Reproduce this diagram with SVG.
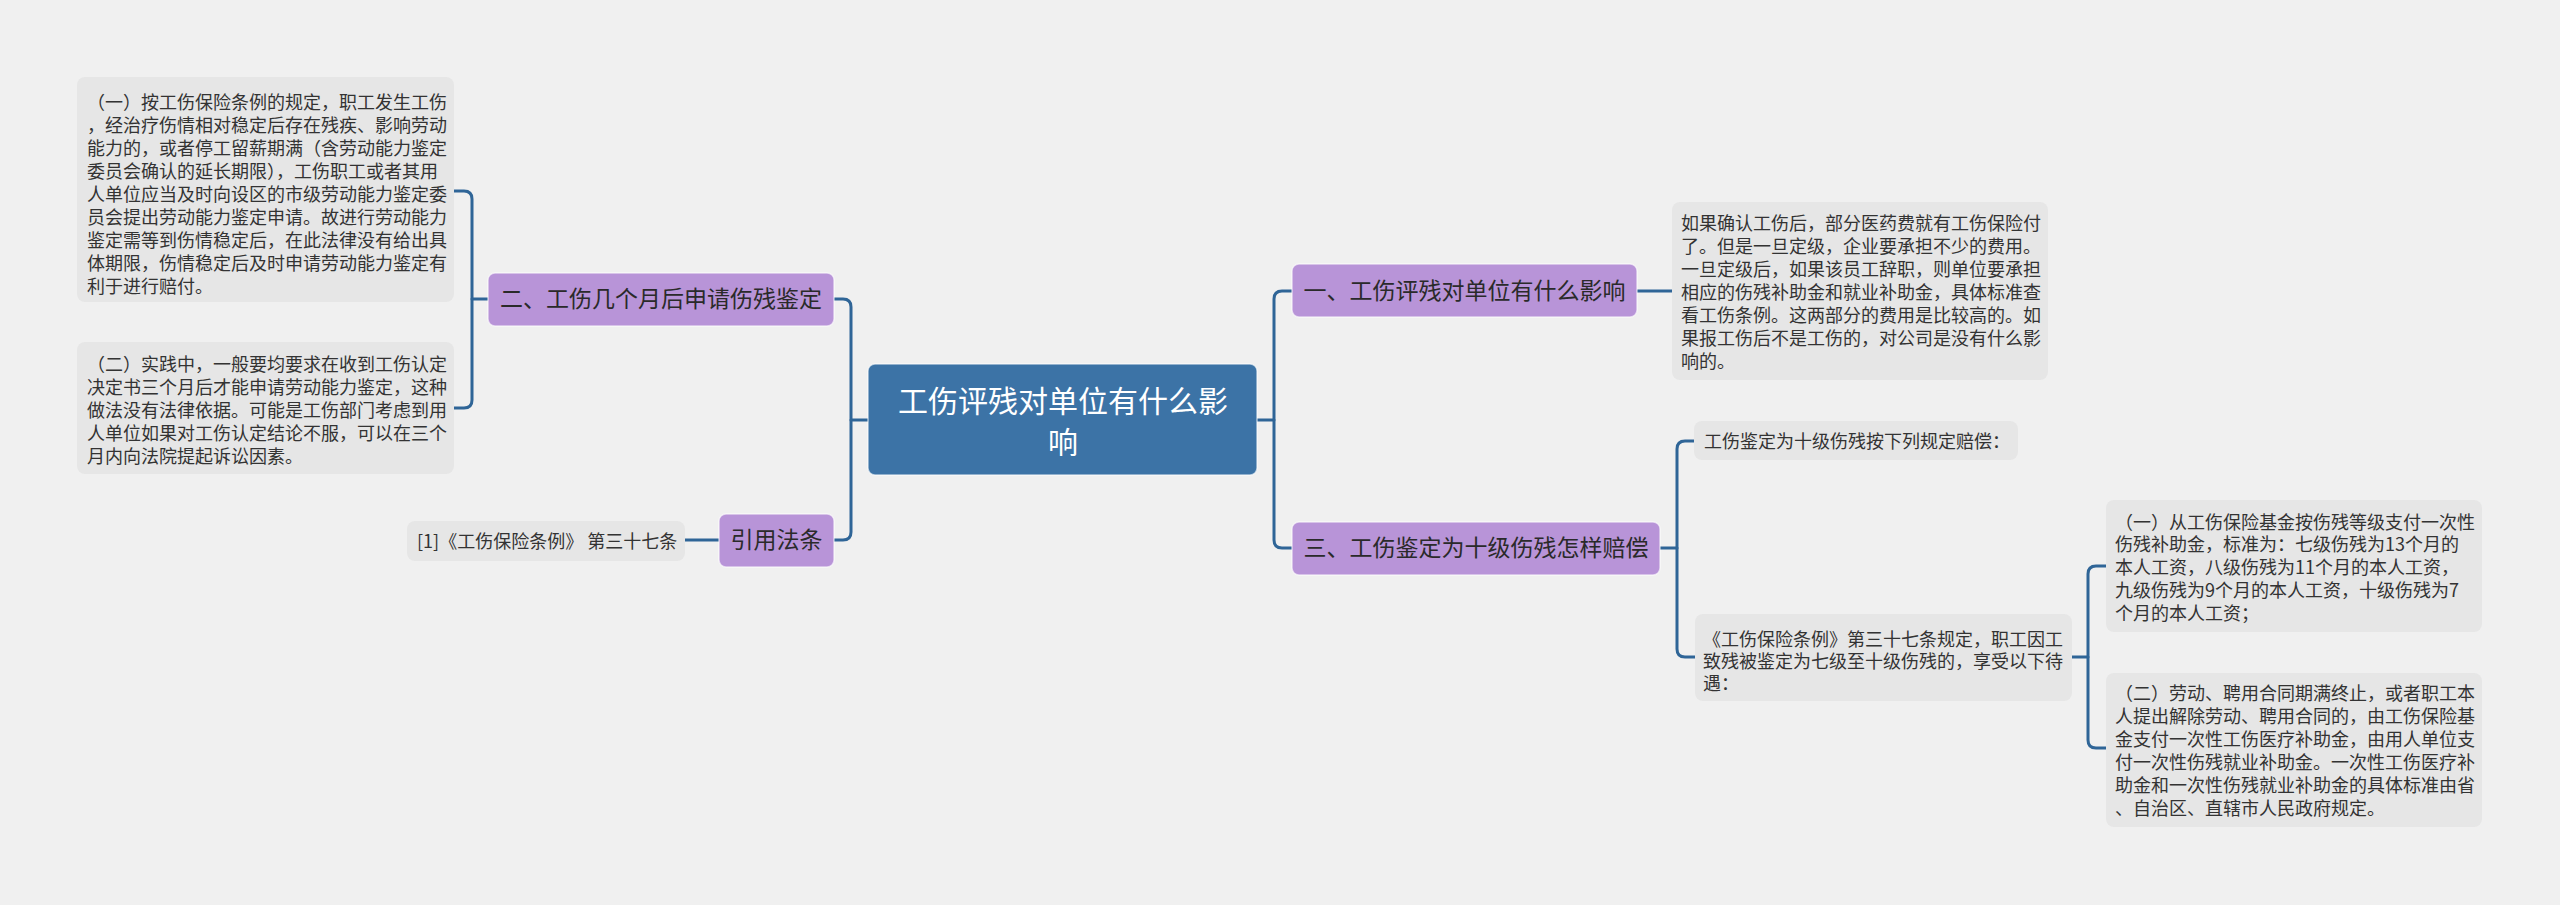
<svg xmlns="http://www.w3.org/2000/svg" width="2560" height="905" viewBox="0 0 2560 905">
<style>
.bg{fill:#f0f0f0}
.leaf{fill:#e6e6e6}
.lt{font-family:"Noto Sans CJK SC","Liberation Sans",sans-serif;font-size:18px;fill:#333333}
.sub{fill:#b894d8;stroke:#ffffff;stroke-opacity:0.6;stroke-width:1.5}
.st{font-family:"Noto Sans CJK SC","Liberation Sans",sans-serif;font-size:23px;fill:#2a2a2a;text-anchor:middle}
.root{fill:#3c73a6;stroke:#ffffff;stroke-opacity:0.6;stroke-width:1.5}
.rt{font-family:"Noto Sans CJK SC","Liberation Sans",sans-serif;font-size:30px;fill:#ffffff;text-anchor:middle}
.c{fill:none;stroke:#2f6597;stroke-width:3;stroke-linecap:round;stroke-linejoin:round}
</style>
<rect class="bg" x="0" y="0" width="2560" height="905"/>
<g id="connectors">
<path class="c" d="M868,420 H851"/>
<path class="c" d="M834,299 H843 Q851,299 851,307 V532 Q851,540 843,540 H834"/>
<path class="c" d="M488,299 H472"/>
<path class="c" d="M454,191 H464 Q472,191 472,199 V400 Q472,408 464,408 H454"/>
<path class="c" d="M719,540 H685"/>
<path class="c" d="M1257,420 H1274"/>
<path class="c" d="M1292,291 H1282 Q1274,291 1274,299 V540 Q1274,548 1282,548 H1292"/>
<path class="c" d="M1637,291 H1672"/>
<path class="c" d="M1660,548 H1677"/>
<path class="c" d="M1694,441 H1685 Q1677,441 1677,449 V649 Q1677,657 1685,657 H1695"/>
<path class="c" d="M2072,657 H2088"/>
<path class="c" d="M2106,566 H2096 Q2088,566 2088,574 V740 Q2088,748 2096,748 H2106"/>
</g>
<g id="root">
<rect class="root" x="868" y="364" width="389" height="111" rx="7"/>
<text class="rt" x="1063" y="412">工伤评残对单位有什么影</text>
<text class="rt" x="1063" y="453">响</text>
</g>
<g id="n2">
<rect class="sub" x="488" y="273" width="346" height="53" rx="7"/>
<text class="st" x="661" y="307">二、工伤几个月后申请伤残鉴定</text>
</g>
<g id="nref">
<rect class="sub" x="719" y="514" width="115" height="53" rx="7"/>
<text class="st" x="776.5" y="548">引用法条</text>
</g>
<g id="n1">
<rect class="sub" x="1292" y="264" width="345" height="53" rx="7"/>
<text class="st" x="1464.5" y="299">一、工伤评残对单位有什么影响</text>
</g>
<g id="n3">
<rect class="sub" x="1292" y="522" width="368" height="53" rx="7"/>
<text class="st" x="1476" y="556">三、工伤鉴定为十级伤残怎样赔偿</text>
</g>
<g id="leafL1">
<rect class="leaf" x="77" y="77" width="377" height="225" rx="8"/>
<text class="lt">
<tspan x="87" y="108.5">（一）按工伤保险条例的规定，职工发生工伤</tspan>
<tspan x="87" y="131.6">，经治疗伤情相对稳定后存在残疾、影响劳动</tspan>
<tspan x="87" y="154.7">能力的，或者停工留薪期满（含劳动能力鉴定</tspan>
<tspan x="87" y="177.8">委员会确认的延长期限），工伤职工或者其用</tspan>
<tspan x="87" y="200.9">人单位应当及时向设区的市级劳动能力鉴定委</tspan>
<tspan x="87" y="224">员会提出劳动能力鉴定申请。故进行劳动能力</tspan>
<tspan x="87" y="247.1">鉴定需等到伤情稳定后，在此法律没有给出具</tspan>
<tspan x="87" y="270.2">体期限，伤情稳定后及时申请劳动能力鉴定有</tspan>
<tspan x="87" y="293.3">利于进行赔付。</tspan>
</text>
</g>
<g id="leafL2">
<rect class="leaf" x="77" y="342" width="377" height="132" rx="8"/>
<text class="lt">
<tspan x="87" y="370.5">（二）实践中，一般要均要求在收到工伤认定</tspan>
<tspan x="87" y="393.5">决定书三个月后才能申请劳动能力鉴定，这种</tspan>
<tspan x="87" y="416.5">做法没有法律依据。可能是工伤部门考虑到用</tspan>
<tspan x="87" y="439.5">人单位如果对工伤认定结论不服，可以在三个</tspan>
<tspan x="87" y="462.5">月内向法院提起诉讼因素。</tspan>
</text>
</g>
<g id="leafRef">
<rect class="leaf" x="407" y="521" width="278" height="40" rx="8"/>
<text class="lt" x="417" y="547.5">[1]《工伤保险条例》 第三十七条</text>
</g>
<g id="leafR1">
<rect class="leaf" x="1672" y="202" width="376" height="178" rx="8"/>
<text class="lt">
<tspan x="1681" y="229.5">如果确认工伤后，部分医药费就有工伤保险付</tspan>
<tspan x="1681" y="252.5">了。但是一旦定级，企业要承担不少的费用。</tspan>
<tspan x="1681" y="275.5">一旦定级后，如果该员工辞职，则单位要承担</tspan>
<tspan x="1681" y="298.5">相应的伤残补助金和就业补助金，具体标准查</tspan>
<tspan x="1681" y="321.5">看工伤条例。这两部分的费用是比较高的。如</tspan>
<tspan x="1681" y="344.5">果报工伤后不是工伤的，对公司是没有什么影</tspan>
<tspan x="1681" y="367.5">响的。</tspan>
</text>
</g>
<g id="leafR2">
<rect class="leaf" x="1694" y="421" width="324" height="39" rx="8"/>
<text class="lt" x="1704" y="447.5">工伤鉴定为十级伤残按下列规定赔偿：</text>
</g>
<g id="leafR3">
<rect class="leaf" x="1695" y="614" width="377" height="87" rx="8"/>
<text class="lt">
<tspan x="1703" y="645.5">《工伤保险条例》第三十七条规定，职工因工</tspan>
<tspan x="1703" y="667.5">致残被鉴定为七级至十级伤残的，享受以下待</tspan>
<tspan x="1703" y="689.5">遇：</tspan>
</text>
</g>
<g id="leafR4">
<rect class="leaf" x="2106" y="500" width="376" height="132" rx="8"/>
<text class="lt">
<tspan x="2115" y="528.5">（一）从工伤保险基金按伤残等级支付一次性</tspan>
<tspan x="2115" y="551.3">伤残补助金，标准为：七级伤残为13个月的</tspan>
<tspan x="2115" y="574.1">本人工资，八级伤残为11个月的本人工资，</tspan>
<tspan x="2115" y="596.9">九级伤残为9个月的本人工资，十级伤残为7</tspan>
<tspan x="2115" y="619.7">个月的本人工资；</tspan>
</text>
</g>
<g id="leafR5">
<rect class="leaf" x="2106" y="673" width="376" height="154" rx="8"/>
<text class="lt">
<tspan x="2115" y="699.5">（二）劳动、聘用合同期满终止，或者职工本</tspan>
<tspan x="2115" y="722.5">人提出解除劳动、聘用合同的，由工伤保险基</tspan>
<tspan x="2115" y="745.5">金支付一次性工伤医疗补助金，由用人单位支</tspan>
<tspan x="2115" y="768.5">付一次性伤残就业补助金。一次性工伤医疗补</tspan>
<tspan x="2115" y="791.5">助金和一次性伤残就业补助金的具体标准由省</tspan>
<tspan x="2115" y="814.5">、自治区、直辖市人民政府规定。</tspan>
</text>
</g>
</svg>
